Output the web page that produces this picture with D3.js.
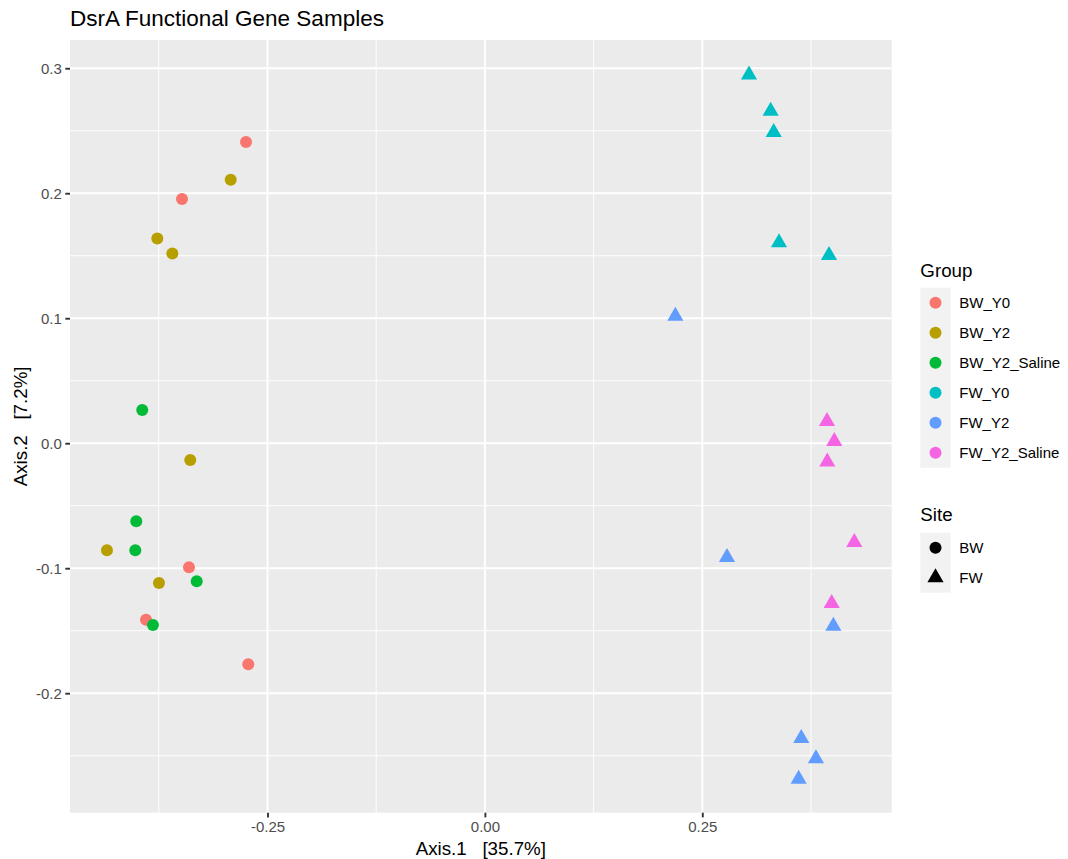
<!DOCTYPE html>
<html>
<head>
<meta charset="utf-8">
<script src="https://cdn.jsdelivr.net/npm/d3@7"></script>
<style>
  html, body { margin: 0; padding: 0; background: #fff; }
  svg { display: block; font-family: "Liberation Sans", Arial, Helvetica, sans-serif; }
  .axis-title { white-space: pre; }
</style>
</head>
<body>
<svg id="chart" width="1068" height="859"></svg>
<script>
// Ordination scores (Axis.1, Axis.2) per sample group
const groups = ["BW_Y0", "BW_Y2", "BW_Y2_Saline", "FW_Y0", "FW_Y2", "FW_Y2_Saline"];
const groupColors = ["#F8766D", "#B79F00", "#00BA38", "#00BFC4", "#619CFF", "#F564E3"];
const groupSite = ["BW", "BW", "BW", "FW", "FW", "FW"];
const sites = ["BW", "FW"];

const bwY0_x = [-0.2747, -0.3483, -0.3403, -0.3897, -0.2721];
const bwY0_y = [0.2410, 0.1953, -0.0993, -0.1413, -0.1768];
const bwY2_x = [-0.2923, -0.3767, -0.3594, -0.3388, -0.4346, -0.3748];
const bwY2_y = [0.2108, 0.1637, 0.1517, -0.0135, -0.0857, -0.1119];
const bwY2S_x = [-0.3940, -0.4009, -0.4020, -0.3314, -0.3817];
const bwY2S_y = [0.0266, -0.0624, -0.0857, -0.1105, -0.1455];
const fwY0_x = [0.3037, 0.3286, 0.3321, 0.3382, 0.3957];
const fwY0_y = [0.2948, 0.2657, 0.2488, 0.1606, 0.1504];
const fwY2_x = [0.2190, 0.2784, 0.4007, 0.3638, 0.3807, 0.3608];
const fwY2_y = [0.1018, -0.0912, -0.1463, -0.2361, -0.2524, -0.2687];
const fwY2S_x = [0.3934, 0.4018, 0.3937, 0.4248, 0.3988];
const fwY2S_y = [0.0176, 0.0015, -0.0148, -0.0792, -0.1281];

const xTicks = [-0.25, 0.00, 0.25];
const xTickLabels = ["-0.25", "0.00", "0.25"];
const xMinor = [-0.375, -0.125, 0.125, 0.375];
const yTicks = [-0.2, -0.1, 0.0, 0.1, 0.2, 0.3];
const yTickLabels = ["-0.2", "-0.1", "0.0", "0.1", "0.2", "0.3"];
const yMinor = [-0.25, -0.15, -0.05, 0.05, 0.15, 0.25];

const seriesX = [bwY0_x, bwY2_x, bwY2S_x, fwY0_x, fwY2_x, fwY2S_x];
const seriesY = [bwY0_y, bwY2_y, bwY2S_y, fwY0_y, fwY2_y, fwY2S_y];

const points = [];
groups.forEach((g, i) => {
  seriesX[i].forEach((xv, j) => {
    points.push({ group: g, site: groupSite[i], color: groupColors[i], x: xv, y: seriesY[i][j] });
  });
});

// Panel geometry
const panel = { left: 70, right: 891.7, top: 40, bottom: 812.7 };
const x = d3.scaleLinear().domain([-0.4771, 0.4678]).range([panel.left, panel.right]);
const y = d3.scaleLinear().domain([-0.2956, 0.3226]).range([panel.bottom, panel.top]);

const svg = d3.select("#chart");

// Circle radius and matching filled triangle (centroid at the point)
const R = 6.0;
function trianglePath(cx, cy, r) {
  const top = 1.5551 * r, half = 1.3468 * r, base = 0.7776 * r;
  return `M${cx},${cy - top}L${cx + half},${cy + base}L${cx - half},${cy + base}Z`;
}

// Panel background
svg.append("rect")
  .attr("x", panel.left).attr("y", panel.top)
  .attr("width", panel.right - panel.left).attr("height", panel.bottom - panel.top)
  .attr("fill", "#EBEBEB");

const grid = svg.append("g");
// Minor grid
grid.selectAll("line.xminor").data(xMinor).enter().append("line")
  .attr("x1", d => x(d)).attr("x2", d => x(d))
  .attr("y1", panel.top).attr("y2", panel.bottom)
  .attr("stroke", "#fff").attr("stroke-width", 0.95);
grid.selectAll("line.yminor").data(yMinor).enter().append("line")
  .attr("y1", d => y(d)).attr("y2", d => y(d))
  .attr("x1", panel.left).attr("x2", panel.right)
  .attr("stroke", "#fff").attr("stroke-width", 0.95);
// Major grid
grid.selectAll("line.xmajor").data(xTicks).enter().append("line")
  .attr("x1", d => x(d)).attr("x2", d => x(d))
  .attr("y1", panel.top).attr("y2", panel.bottom)
  .attr("stroke", "#fff").attr("stroke-width", 1.9);
grid.selectAll("line.ymajor").data(yTicks).enter().append("line")
  .attr("y1", d => y(d)).attr("y2", d => y(d))
  .attr("x1", panel.left).attr("x2", panel.right)
  .attr("stroke", "#fff").attr("stroke-width", 1.9);

// Axes
const xAxis = d3.axisBottom(x).tickValues(xTicks)
  .tickFormat((d, i) => xTickLabels[i]).tickSize(4.7).tickPadding(3.5);
const yAxis = d3.axisLeft(y).tickValues(yTicks)
  .tickFormat((d, i) => yTickLabels[i]).tickSize(4.7).tickPadding(3.5);

const gx = svg.append("g").attr("transform", `translate(0,${panel.bottom})`).call(xAxis);
const gy = svg.append("g").attr("transform", `translate(${panel.left},0)`).call(yAxis);
[gx, gy].forEach(g => {
  g.select(".domain").remove();
  g.selectAll(".tick line").attr("stroke", "#333333").attr("stroke-width", 1.9);
  g.selectAll(".tick text").attr("fill", "#4D4D4D")
    .style("font-size", "15px").style("font-family", "'Liberation Sans', Arial, sans-serif");
});
gx.selectAll(".tick text").attr("dy", "0.71em");

// Points
const pts = svg.append("g");
points.forEach(p => {
  if (p.site === "BW") {
    pts.append("circle").attr("cx", x(p.x)).attr("cy", y(p.y)).attr("r", R).attr("fill", p.color);
  } else {
    pts.append("path").attr("d", trianglePath(x(p.x), y(p.y), R)).attr("fill", p.color);
  }
});

// Titles
svg.append("text").attr("x", panel.left).attr("y", 25.5)
  .style("font-size", "22.5px").attr("fill", "#000")
  .text("DsrA Functional Gene Samples");

svg.append("text").attr("class", "axis-title")
  .attr("x", (panel.left + panel.right) / 2).attr("y", 855)
  .attr("text-anchor", "middle").style("font-size", "18.75px").attr("fill", "#000")
  .text("Axis.1   [35.7%]");

svg.append("text").attr("class", "axis-title")
  .attr("transform", `translate(27,${(panel.top + panel.bottom) / 2}) rotate(-90)`)
  .attr("text-anchor", "middle").style("font-size", "18.75px").attr("fill", "#000")
  .text("Axis.2   [7.2%]");

// Legends
const legX = 920.3, keyW = 30.4, keyH = 30;
const leg = svg.append("g");

leg.append("text").attr("x", legX).attr("y", 276.7)
  .style("font-size", "18.75px").attr("fill", "#000").text("Group");
const gTop = 287.7;
leg.append("rect").attr("x", legX).attr("y", gTop)
  .attr("width", keyW).attr("height", keyH * groups.length).attr("fill", "#F2F2F2");
groups.forEach((g, i) => {
  const cy = gTop + keyH * i + keyH / 2;
  leg.append("circle").attr("cx", legX + keyW / 2).attr("cy", cy).attr("r", R).attr("fill", groupColors[i]);
  leg.append("text").attr("x", 959.3).attr("y", cy).attr("dy", "0.35em")
    .style("font-size", "15px").attr("fill", "#000").text(g);
});

leg.append("text").attr("x", legX).attr("y", 520.5)
  .style("font-size", "18.75px").attr("fill", "#000").text("Site");
const sTop = 532.7;
leg.append("rect").attr("x", legX).attr("y", sTop)
  .attr("width", keyW).attr("height", keyH * sites.length).attr("fill", "#F2F2F2");
sites.forEach((s, i) => {
  const cy = sTop + keyH * i + keyH / 2;
  if (s === "BW") {
    leg.append("circle").attr("cx", legX + keyW / 2).attr("cy", cy).attr("r", R).attr("fill", "#000");
  } else {
    leg.append("path").attr("d", trianglePath(legX + keyW / 2, cy, R)).attr("fill", "#000");
  }
  leg.append("text").attr("x", 959.3).attr("y", cy).attr("dy", "0.35em")
    .style("font-size", "15px").attr("fill", "#000").text(s);
});
</script>
</body>
</html>
